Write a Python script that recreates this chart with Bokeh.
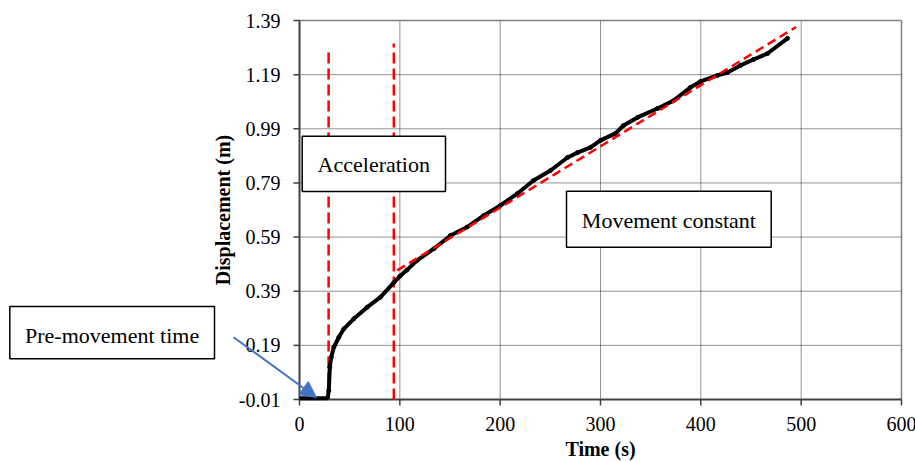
import math
from bokeh.plotting import figure
from bokeh.models import Range1d, Arrow, NormalHead
from bokeh.core.properties import value
from bokeh.embed import file_html
from bokeh.resources import INLINE

# ---------------- data ----------------
time_s = [0, 5, 10, 15, 20, 25, 28, 29.2, 30.2, 31.6, 34.2, 39.2, 44.2, 54.1, 67.5, 80.7,
          94, 100, 107, 117, 133.9, 150.5, 167.1, 183.7, 200.3, 217.3, 233.2, 250.2,
          267.1, 277.1, 290, 300, 315, 322.9, 336.9, 356.8, 372.8, 389.7, 399.7, 416.6,
          426.6, 439.5, 452.5, 466.4, 486.4]
disp_m = [-0.005, -0.005, -0.005, -0.005, -0.005, -0.005, -0.005, 0.023, 0.109, 0.146,
          0.183, 0.220, 0.251, 0.288, 0.331, 0.368,
          0.422, 0.445, 0.468, 0.503, 0.547, 0.596, 0.627, 0.670, 0.707, 0.751, 0.799, 0.836,
          0.884, 0.902, 0.921, 0.947, 0.973, 1.002, 1.032, 1.065, 1.094, 1.143, 1.165, 1.187,
          1.198, 1.224, 1.246, 1.268, 1.324]

# linear fit of the constant-movement phase
fit_t = [97.4, 495]
fit_d = [0.467, 1.366]

# phase boundaries (vertical dashed lines)
bound_t = [29, 94]
bound_top = [1.287, 1.305]

x_ticks = [0, 100, 200, 300, 400, 500, 600]
x_tick_labels = ["0", "100", "200", "300", "400", "500", "600"]
y_ticks = [-0.01, 0.19, 0.39, 0.59, 0.79, 0.99, 1.19, 1.39]
y_tick_labels = ["-0.01", "0.19", "0.39", "0.59", "0.79", "0.99", "1.19", "1.39"]

X_MIN, X_MAX = 0, 600
Y_MIN, Y_MAX = -0.01, 1.39

# ---------------- layout (pixels) ----------------
W, H = 915, 461
FL, FR, FT, FB = 299, 901, 20, 399   # plot frame in pixels
sx = (FR - FL) / (X_MAX - X_MIN)      # px per x unit
sy = (FB - FT) / (Y_MAX - Y_MIN)      # px per y unit

def X(px):
    return X_MIN + (px - FL) / sx

def Y(py):
    return Y_MIN + (FB - py) / sy

FONT = "Liberation Serif"
AX = "#404040"

p = figure(width=W, height=H, output_backend="svg", toolbar_location=None,
           x_range=Range1d(X(0), X(W)), y_range=Range1d(Y(H), Y(0)),
           x_axis_type=None, y_axis_type=None,
           min_border_left=0, min_border_right=0, min_border_top=0, min_border_bottom=0)
p.outline_line_color = None
p.background_fill_color = "white"
p.border_fill_color = "white"
p.xgrid.visible = False
p.ygrid.visible = False

# grid
gx = x_ticks[1:-1]
p.segment(x0=gx, y0=[Y_MIN] * len(gx), x1=gx, y1=[Y_MAX] * len(gx),
          line_color="black", line_alpha=0.85, line_width=1, line_dash="1 1")
gy = y_ticks[1:-1]
p.segment(x0=[X_MIN] * len(gy), y0=gy, x1=[X_MAX] * len(gy), y1=gy,
          line_color="black", line_alpha=0.85, line_width=1, line_dash="1 1")

# frame: top / right border
p.segment(x0=[X_MIN, X_MAX], y0=[Y_MAX, Y_MIN], x1=[X_MAX, X_MAX], y1=[Y_MAX, Y_MAX],
          line_color="#7f7f7f", line_width=1.5)

# ticks
tick = 6
p.segment(x0=x_ticks, y0=[Y_MIN] * len(x_ticks), x1=x_ticks,
          y1=[Y_MIN - tick / sy] * len(x_ticks), line_color=AX, line_width=1.5)
p.segment(x0=[X_MIN] * len(y_ticks), y0=y_ticks, x1=[X_MIN - tick / sx] * len(y_ticks),
          y1=y_ticks, line_color=AX, line_width=1.5)

# axis lines
p.segment(x0=[X_MIN, X_MIN], y0=[Y_MIN, Y_MIN], x1=[X_MIN, X_MAX], y1=[Y_MAX, Y_MIN],
          line_color=AX, line_width=2)

# tick labels
p.text(x=[X_MIN] * len(y_ticks), y=y_ticks, text=y_tick_labels, x_offset=-19,
       text_font=value(FONT), text_font_size=value("20px"), text_color="black",
       text_align="right", text_baseline="middle")
p.text(x=x_ticks, y=[Y_MIN] * len(x_ticks), text=x_tick_labels, y_offset=24.5,
       text_font=value(FONT), text_font_size=value("20px"), text_color="black",
       text_align="center", text_baseline="middle")

# axis titles
p.text(x=[(X_MIN + X_MAX) / 2], y=[Y_MIN], text=["Time (s)"], y_offset=49.5,
       text_font=value(FONT), text_font_size=value("20px"), text_font_style="bold",
       text_color="black", text_align="center", text_baseline="middle")
p.text(x=[X_MIN], y=[(Y_MIN + Y_MAX) / 2], text=["Displacement (m)"], x_offset=-76.5,
       angle=math.pi / 2, text_font=value(FONT), text_font_size=value("20px"),
       text_font_style="bold", text_color="black", text_align="center",
       text_baseline="middle")

# phase boundaries
p.segment(x0=bound_t, y0=[Y_MIN, Y_MIN], x1=bound_t, y1=bound_top,
          line_color="#ff0000", line_width=2.5, line_dash="11 5")

# measured displacement
p.line(time_s, disp_m, line_color="black", line_width=4)
p.scatter(time_s[7:], disp_m[7:], size=4, color="black")

# fit line
p.line(fit_t, fit_d, line_color="#ff0000", line_width=2.5, line_dash="9 5")

# annotation boxes
boxes = [
    # left, right, top, bottom (px), text, text-centre x px, text-centre y px
    (301.7, 445.0, 135.7, 191.0, "Acceleration", 373.3, 163.6),
    (566.0, 770.7, 190.7, 246.7, "Movement constant", 668.4, 219.6),
    (9.3, 214.0, 306.0, 358.3, "Pre-movement time", 111.6, 334.6),
]
p.quad(left=[X(b[0]) for b in boxes], right=[X(b[1]) for b in boxes],
       top=[Y(b[2]) for b in boxes], bottom=[Y(b[3]) for b in boxes],
       fill_color="white", line_color="black", line_width=1.5)
p.text(x=[X(b[5]) for b in boxes], y=[Y(b[6]) for b in boxes], text=[b[4] for b in boxes],
       text_font=value(FONT), text_font_size=value("22px"), text_color="black",
       text_align="center", text_baseline="middle")

# arrow to the pre-movement phase
p.add_layout(Arrow(x_start=X(233), y_start=Y(336.7), x_end=X(316), y_end=Y(397),
                   line_color="#4472C4", line_width=2,
                   end=NormalHead(size=16, fill_color="#4472C4", line_color="#4472C4")))

open("out.html", "w").write(file_html(p, INLINE))
